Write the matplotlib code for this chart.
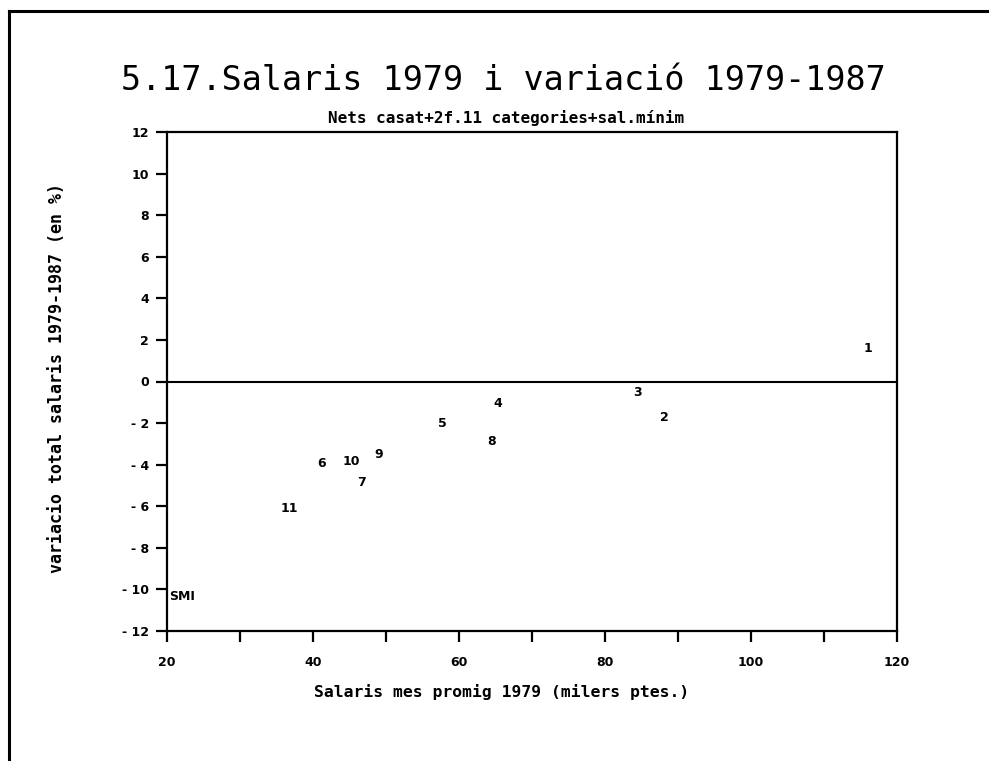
import matplotlib
matplotlib.use("Agg")
import matplotlib.pyplot as plt
from matplotlib.lines import Line2D

# Data
labels = ["1", "2", "3", "4", "5", "6", "7", "8", "9", "10", "11", "SMI"]
salari_1979 = [116.0, 88.2, 84.4, 65.3, 57.7, 41.2, 46.6, 64.5, 49.0, 45.2, 36.7, 22.1]
variacio = [1.6, -1.75, -0.55, -1.05, -2.0, -3.95, -4.85, -2.9, -3.5, -3.85, -6.1, -10.35]

x_ticks = list(range(20, 121, 10))
x_ticklabels = ["20", "", "40", "", "60", "", "80", "", "100", "", "120"]
y_ticks = list(range(-12, 13, 2))

W, H = 989, 761
fig = plt.figure(figsize=(W / 100, H / 100), dpi=100)
fig.patch.set_facecolor("white")

left, right, top, bottom = 167, 897, 132, 631
ax = fig.add_axes([left / W, 1 - bottom / H, (right - left) / W, (bottom - top) / H])
ax.set_xlim(20, 120)
ax.set_ylim(-12, 12)

for s in ax.spines.values():
    s.set_linewidth(1.6)
    s.set_color("black")

ax.axhline(0, color="black", lw=1.5)

for x, y, t in zip(salari_1979, variacio, labels):
    ax.text(x, y, t, ha="center", va="center", fontsize=9, fontweight="bold",
            color="black")

ax.set_xticks(x_ticks)
ax.set_xticklabels(x_ticklabels)
ax.set_yticks(y_ticks)
ax.set_yticklabels([str(v) if v >= 0 else "- " + str(-v) for v in y_ticks])
ax.tick_params(axis="both", direction="out", length=8, width=1.6, color="black",
               labelsize=9, pad=5)
for lab in ax.get_xticklabels() + ax.get_yticklabels():
    lab.set_fontweight("bold")
ax.tick_params(axis="x", pad=10)

fig.text(503 / W, 1 - 80 / H, "5.17.Salaris 1979 i variació 1979-1987",
         ha="center", va="center", fontsize=24, family="DejaVu Sans Mono",
         color="black")
fig.text(506 / W, 1 - 118 / H, "Nets casat+2f.11 categories+sal.mínim",
         ha="center", va="center", fontsize=11.5, fontweight="bold",
         family="DejaVu Sans Mono")
fig.text(502 / W, 1 - 692 / H, "Salaris mes promig 1979 (milers ptes.)",
         ha="center", va="center", fontsize=11.8, fontweight="bold",
         family="DejaVu Sans Mono")
fig.text(57 / W, 1 - 378 / H, "variacio total salaris 1979-1987 (en %)",
         ha="center", va="center", rotation=90, fontsize=12, fontweight="bold",
         family="DejaVu Sans Mono")

# page frame (left and top border lines)
fig.add_artist(Line2D([9 / W, 9 / W], [0, 1 - 11 / H], transform=fig.transFigure,
                      color="black", lw=2.2))
fig.add_artist(Line2D([9 / W, 1], [1 - 11 / H, 1 - 11 / H], transform=fig.transFigure,
                      color="black", lw=2.2))

fig.savefig("out.png", dpi=100, facecolor="white")
